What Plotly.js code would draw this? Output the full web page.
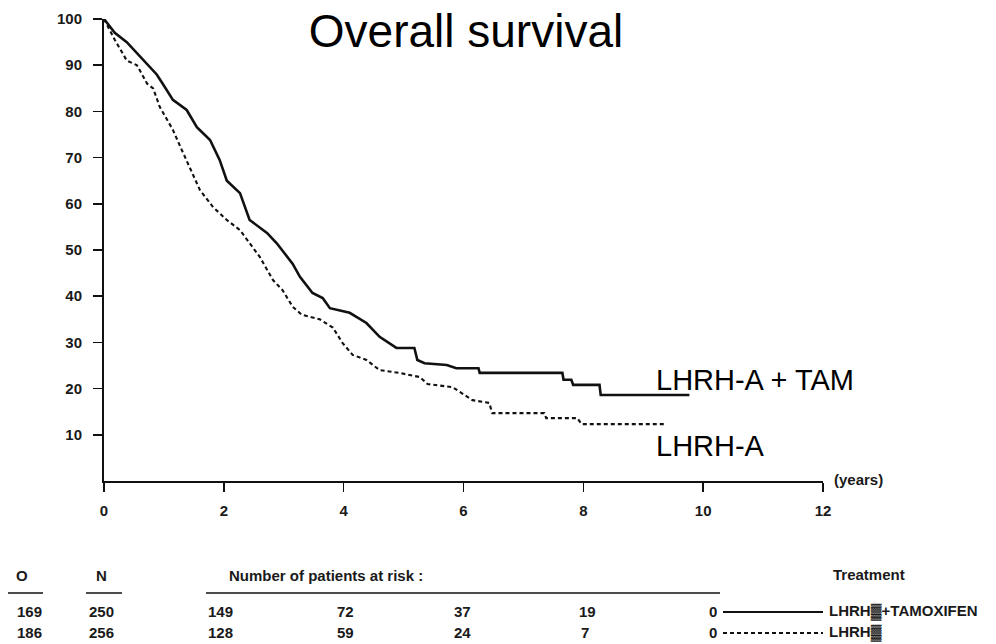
<!DOCTYPE html>
<html>
<head>
<meta charset="utf-8">
<script src="https://cdn.plot.ly/plotly-3.0.1.min.js"></script>
<style>
  html, body { margin: 0; padding: 0; background: #fff; }
  #chart { width: 996px; height: 644px; }
</style>
</head>
<body>
<div id="chart"></div>
<script>
// ---- Data ----
const tamYears = [0, 0.18, 0.38, 0.55, 0.72, 0.88, 0.98, 1.15, 1.38, 1.55, 1.77, 1.93, 2.05, 2.27, 2.43, 2.72, 2.88, 3.05, 3.15, 3.27, 3.48, 3.65, 3.77, 4.1, 4.38, 4.6, 4.88, 5.18, 5.23, 5.35, 5.72, 5.88, 6.25, 6.27, 7.65, 7.67, 7.8, 7.83, 8.27, 8.29, 9.77];
const tamSurv  = [100, 97, 95, 92.6, 90.3, 88, 86, 82.5, 80.3, 76.6, 73.8, 69.5, 65, 62.3, 56.5, 53.7, 51.5, 48.5, 47, 44.2, 40.7, 39.6, 37.4, 36.4, 34.2, 31.2, 28.8, 28.8, 26.2, 25.5, 25.1, 24.4, 24.4, 23.4, 23.4, 21.9, 21.9, 20.8, 20.8, 18.6, 18.6];

const lhrhYears = [0, 0.18, 0.38, 0.55, 0.72, 0.82, 0.93, 1.15, 1.3, 1.48, 1.6, 1.82, 2.05, 2.27, 2.43, 2.6, 2.82, 2.98, 3.15, 3.3, 3.6, 3.82, 3.98, 4.15, 4.38, 4.6, 4.93, 5.27, 5.4, 5.82, 6.15, 6.43, 6.48, 7.35, 7.38, 7.9, 7.97, 9.38];
const lhrhSurv  = [100, 95.5, 91, 90, 86, 85, 81, 76, 71.6, 66.6, 63, 59.3, 56.5, 54.3, 51.5, 48.5, 43.5, 41.3, 37.7, 36, 35, 33.2, 29.9, 27.3, 26.2, 24, 23.4, 22.5, 21, 20.3, 17.5, 16.9, 14.7, 14.7, 13.6, 13.6, 12.3, 12.3];

const xTicks = [0, 2, 4, 6, 8, 10, 12];
const yTicks = [10, 20, 30, 40, 50, 60, 70, 80, 90, 100];

const tableHeaders = ["O", "N", "Number of patients at risk :", "Treatment"];
const observedTam = 169, totalTam = 250;
const observedA = 186, totalA = 256;
const riskTam = [149, 72, 37, 19, 0];
const riskA   = [128, 59, 24, 7, 0];
const treatmentNames = ["LHRH\u2593+TAMOXIFEN", "LHRH\u2593"];
const seriesLabels = ["LHRH-A + TAM", "LHRH-A"];

// ---- Layout helpers (pixel -> paper) ----
const W = 996, H = 644;
const M = { l: 104, r: 173, t: 19, b: 163 };
const PW = W - M.l - M.r, PH = H - M.t - M.b;
const px = x => (x - M.l) / PW;
const py = y => (H - M.b - y) / PH;

const FONT = '"Liberation Sans", Arial, Helvetica, sans-serif';
const INK = '#111';
const TF = { family: FONT, size: 15, color: '#1a1a1a', weight: 'bold' };

const traces = [
  { x: tamYears, y: tamSurv, type: 'scatter', mode: 'lines', name: seriesLabels[0],
    line: { color: INK, width: 2.6, shape: 'linear' }, hoverinfo: 'x+y', showlegend: false },
  { x: lhrhYears, y: lhrhSurv, type: 'scatter', mode: 'lines', name: seriesLabels[1],
    line: { color: INK, width: 2.1, dash: '4px,3px', shape: 'linear' }, hoverinfo: 'x+y', showlegend: false }
];

const ann = [];
function txt(text, x, y, font, anchor, xref, yref) {
  ann.push({ text: text, x: x, y: y, xref: xref || 'paper', yref: yref || 'paper',
    xanchor: anchor || 'left', yanchor: 'middle', showarrow: false, font: font });
}
const bigFont = { family: FONT, size: 29, color: '#000' };

// series labels in the plot
txt(seriesLabels[0], 9.18, 21.9, bigFont, 'left', 'x', 'y');
txt(seriesLabels[1], 9.18, 7.6, bigFont, 'left', 'x', 'y');
txt('(years)', px(832), py(479), TF, 'left');

// table
const colLeft = [206, 335, 452, 577, 707];
txt(tableHeaders[0], px(22), py(575), TF, 'center');
txt(tableHeaders[1], px(101), py(575), TF, 'center');
txt(tableHeaders[2], px(227), py(575), TF, 'left');
txt(tableHeaders[3], px(831), py(574), TF, 'left');

const rowY = [611, 632];
txt(String(observedTam), px(15), py(rowY[0]), TF, 'left');
txt(String(totalTam), px(87), py(rowY[0]), TF, 'left');
txt(String(observedA), px(15), py(rowY[1]), TF, 'left');
txt(String(totalA), px(87), py(rowY[1]), TF, 'left');
riskTam.forEach((v, i) => txt(String(v), px(colLeft[i]), py(rowY[0]), TF, 'left'));
riskA.forEach((v, i) => txt(String(v), px(colLeft[i] + (i === 3 ? 2 : 0)), py(rowY[1]), TF, 'left'));
txt(treatmentNames[0], px(827), py(rowY[0]), TF, 'left');
txt(treatmentNames[1], px(827), py(rowY[1]), TF, 'left');

const shapes = [
  { type: 'line', xref: 'paper', yref: 'paper', x0: px(8), x1: px(43), y0: py(593), y1: py(593), line: { color: INK, width: 1.5 } },
  { type: 'line', xref: 'paper', yref: 'paper', x0: px(86), x1: px(122), y0: py(593), y1: py(593), line: { color: INK, width: 1.5 } },
  { type: 'line', xref: 'paper', yref: 'paper', x0: px(206), x1: px(720), y0: py(593), y1: py(593), line: { color: INK, width: 1.5 } },
  { type: 'line', xref: 'paper', yref: 'paper', x0: px(723), x1: px(823), y0: py(rowY[0] + 1), y1: py(rowY[0] + 1), line: { color: INK, width: 2 } },
  { type: 'line', xref: 'paper', yref: 'paper', x0: px(723), x1: px(823), y0: py(rowY[1] + 1), y1: py(rowY[1] + 1), line: { color: INK, width: 1.8, dash: '4px,3px' } }
];

const layout = {
  width: W, height: H,
  margin: M,
  paper_bgcolor: '#fff', plot_bgcolor: '#fff',
  font: { family: FONT, color: INK },
  title: { text: 'Overall survival', x: 466 / W, xanchor: 'center', xref: 'container',
           y: 1 - 31 / H, yanchor: 'middle', yref: 'container',
           font: { family: FONT, size: 46, color: '#000' } },
  xaxis: { range: [0, 12], tickvals: xTicks, ticktext: xTicks.map(String),
           ticks: 'outside', ticklen: 9, tickwidth: 1.5, tickcolor: INK,
           showline: true, linecolor: INK, linewidth: 2, showgrid: false, zeroline: false,
           tickfont: TF, ticklabelstandoff: 6, fixedrange: true },
  yaxis: { range: [0, 100], tickvals: yTicks, ticktext: yTicks.map(String),
           ticks: 'outside', ticklen: 9, tickwidth: 1.5, tickcolor: INK,
           showline: true, linecolor: INK, linewidth: 2, showgrid: false, zeroline: false,
           tickfont: TF, ticklabelstandoff: 8, fixedrange: true },
  annotations: ann,
  shapes: shapes,
  showlegend: false
};

Plotly.newPlot('chart', traces, layout, { displayModeBar: false, staticPlot: true });
</script>
</body>
</html>
